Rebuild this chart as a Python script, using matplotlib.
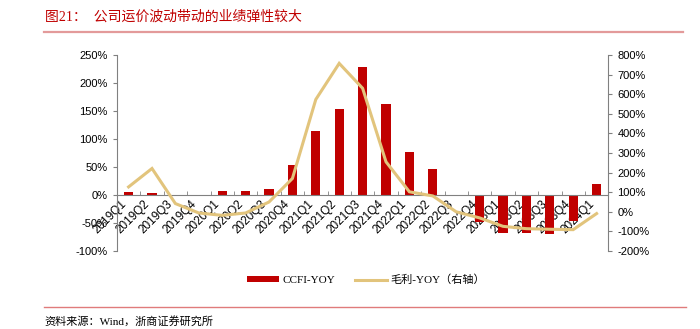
import matplotlib
matplotlib.use("Agg")
import matplotlib.pyplot as plt
import numpy as np
from matplotlib.ticker import FuncFormatter, MultipleLocator

quarters = [
    "2019Q1", "2019Q2", "2019Q3", "2019Q4",
    "2020Q1", "2020Q2", "2020Q3", "2020Q4",
    "2021Q1", "2021Q2", "2021Q3", "2021Q4",
    "2022Q1", "2022Q2", "2022Q3", "2022Q4",
    "2023Q1", "2023Q2", "2023Q3", "2023Q4",
    "2024Q1",
]
ccfi_yoy = [5, 3, -1, -2, 8, 6.5, 11, 53, 114, 154, 229, 162,
            76, 46, -1, -49, -67, -68, -70, -46, 19]
gross_yoy = [127, 221, 42, -6, -18, -6, 50, 170, 573, 757, 630, 255,
             102, 81, 0, -31, -74, -86, -89, -91, -9]

title = "图21：  公司运价波动带动的业绩弹性较大"
source = "资料来源：Wind，浙商证券研究所"

BAR_RED = "#C00000"
GOLD = "#E2C47C"
AXIS_GREY = "#808080"
CJK_SERIF = ["Liberation Serif", "Noto Sans CJK SC"]

fig = plt.figure(figsize=(7.0, 3.29), dpi=100)
ax = fig.add_axes([0.167, 0.237, 0.702, 0.596])
ax2 = ax.twinx()

x = np.arange(len(quarters))
bars = ax.bar(x, ccfi_yoy, width=0.4, color=BAR_RED, label="CCFI-YOY", zorder=2)
line, = ax2.plot(x, gross_yoy, color=GOLD, lw=2.2, label="毛利-YOY（右轴）",
                 solid_joinstyle="miter")

# ── left axis ────────────────────────────────────────────────────────────
ax.set_xlim(-0.5, len(quarters) - 0.5)
ax.set_ylim(-100, 250)
ax.yaxis.set_major_locator(MultipleLocator(50))
ax.yaxis.set_major_formatter(FuncFormatter(lambda v, _: f"{v:.0f}%"))
ax.spines["top"].set_visible(False)
ax.spines["right"].set_visible(False)
ax.spines["left"].set_color(AXIS_GREY)
ax.spines["bottom"].set_color(AXIS_GREY)
ax.spines["bottom"].set_position(("data", 0))
ax.spines["bottom"].set_zorder(3)
ax.tick_params(axis="y", colors=AXIS_GREY, labelcolor="black", labelsize=8,
               length=3, direction="out")

ax.set_xticks(x)
ax.set_xticklabels(quarters, rotation=45, ha="right", fontsize=8.5,
                   family="Liberation Sans")
ax.tick_params(axis="x", length=0, pad=2)
ax.set_xticks(np.arange(-0.5, len(quarters), 1.0), minor=True)
ax.tick_params(axis="x", which="minor", length=3, direction="in",
               color=AXIS_GREY)
for lbl in ax.get_yticklabels():
    lbl.set_family("Liberation Sans")

# ── right axis ───────────────────────────────────────────────────────────
ax2.set_ylim(-200, 800)
ax2.yaxis.set_major_locator(MultipleLocator(100))
ax2.yaxis.set_major_formatter(FuncFormatter(lambda v, _: f"{v:.0f}%"))
for side in ("top", "left", "bottom"):
    ax2.spines[side].set_visible(False)
ax2.spines["right"].set_color(AXIS_GREY)
ax2.tick_params(axis="y", colors=AXIS_GREY, labelcolor="black", labelsize=8,
                length=3, direction="out")
for lbl in ax2.get_yticklabels():
    lbl.set_family("Liberation Sans")

# ── legend ───────────────────────────────────────────────────────────────
leg = fig.legend([bars, line], ["CCFI-YOY", "毛利-YOY（右轴）"],
                 loc="center", bbox_to_anchor=(0.523, 0.149), ncol=2,
                 frameon=False, prop={"family": CJK_SERIF, "size": 8},
                 handlelength=2.9, handleheight=0.5, handletextpad=0.3,
                 columnspacing=1.8)

# ── title, rules, source ────────────────────────────────────────────────
fig.text(0.064, 0.948, title, color=BAR_RED, fontsize=10, family=CJK_SERIF,
         va="center", ha="left")
fig.add_artist(plt.Line2D([0.063, 0.976], [0.902, 0.902], color="#E39A9A",
                          lw=1.6, transform=fig.transFigure))
fig.add_artist(plt.Line2D([0.063, 0.98], [0.066, 0.066], color="#E07B7B",
                          lw=1.0, transform=fig.transFigure))
fig.text(0.064, 0.022, source, color="black", fontsize=8, family=CJK_SERIF,
         va="center", ha="left")

fig.savefig("out.png", dpi=100)
